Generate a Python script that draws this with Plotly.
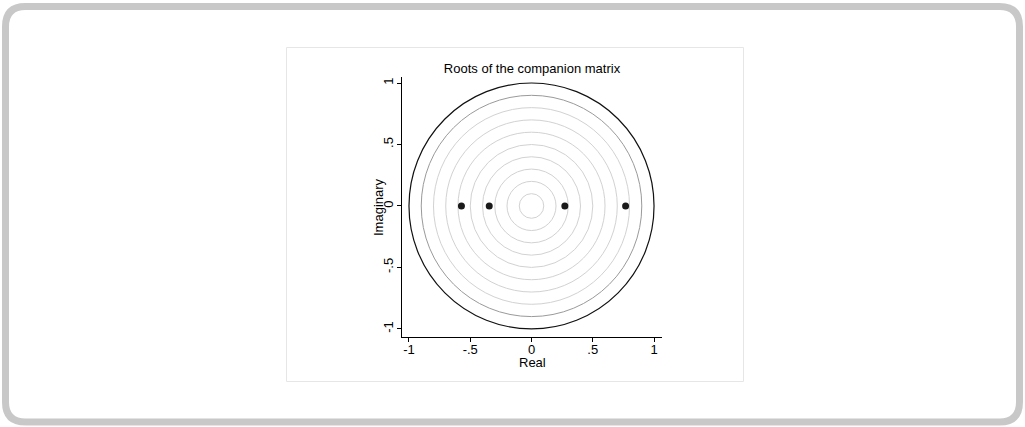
import plotly.graph_objects as go

# Data
root_real = [-0.572, -0.345, 0.272, 0.768]
root_imag = [0.0, 0.0, 0.0, 0.0]
grid_radii = [0.1, 0.2, 0.3, 0.4, 0.5, 0.6, 0.7, 0.8, 0.9]
unit_radius = 1.0
tick_vals = [-1, -0.5, 0, 0.5, 1]
tick_text = ["-1", "-.5", "0", ".5", "1"]

W, H = 1025, 427
L, R, T, B = 402, 363, 77, 90
PW = W - L - R
PH = H - T - B

def px(x):
    return (x - L) / PW

def py(y):
    return (H - B - y) / PH

fig = go.Figure()
fig.add_trace(go.Scatter(
    x=root_real, y=root_imag, mode="markers",
    marker=dict(size=7, color="#1a1a1a"),
    showlegend=False, hoverinfo="x+y"))

shapes = []
for r in grid_radii:
    shapes.append(dict(type="circle", xref="x", yref="y", x0=-r, x1=r, y0=-r, y1=r,
                       line=dict(color="#9a9a9a" if r == 0.9 else "#d2d2d2", width=1),
                       layer="below"))
shapes.append(dict(type="circle", xref="x", yref="y", x0=-unit_radius, x1=unit_radius,
                   y0=-unit_radius, y1=unit_radius, line=dict(color="#111111", width=1.2),
                   layer="below"))

# outer rounded frame
x0, x1, y0, y1, rr = 5.5, 1019.5, 6.5, 422, 20
path = (f"M {px(x0+rr)},{py(y0)} L {px(x1-rr)},{py(y0)} Q {px(x1)},{py(y0)} {px(x1)},{py(y0+rr)} "
        f"L {px(x1)},{py(y1-rr)} Q {px(x1)},{py(y1)} {px(x1-rr)},{py(y1)} "
        f"L {px(x0+rr)},{py(y1)} Q {px(x0)},{py(y1)} {px(x0)},{py(y1-rr)} "
        f"L {px(x0)},{py(y0+rr)} Q {px(x0)},{py(y0)} {px(x0+rr)},{py(y0)} Z")
shapes.append(dict(type="path", xref="paper", yref="paper", path=path,
                   line=dict(color="#c8c8c8", width=7), layer="below"))
# inner chart box
shapes.append(dict(type="rect", xref="paper", yref="paper", x0=px(286.5), x1=px(743.5),
                   y0=py(47.5), y1=py(381.5), line=dict(color="#e6e6e6", width=1), layer="below"))

font = dict(family="Liberation Sans, Arial, sans-serif", size=13, color="#000000")

annotations = [
    dict(text="Real", xref="paper", yref="paper", x=px(532), y=py(362),
         xanchor="center", yanchor="middle", showarrow=False, font=font),
    dict(text="Imaginary", xref="paper", yref="paper", x=px(378), y=py(207),
         xanchor="center", yanchor="middle", showarrow=False, textangle=-90, font=font),
]

fig.update_layout(
    width=W, height=H,
    margin=dict(l=L, r=R, t=T, b=B, autoexpand=False),
    paper_bgcolor="white", plot_bgcolor="white",
    shapes=shapes, annotations=annotations,
    font=font,
    title=dict(text="Roots of the companion matrix", xref="paper", x=px(532), xanchor="center",
               y=1 - 68 / H, yanchor="middle", font=dict(size=13)),
    xaxis=dict(range=[-1.057, 1.065], tickvals=tick_vals, ticktext=tick_text,
               showgrid=False, zeroline=False, showline=True, linecolor="#000000",
               linewidth=1.2, ticks="outside", ticklen=4, tickwidth=1, tickcolor="#000000",
               automargin=False, tickfont=font, ticklabelstandoff=-4),
    yaxis=dict(range=[-1.066, 1.049], tickvals=tick_vals, ticktext=tick_text,
               showgrid=False, zeroline=False, showline=True, linecolor="#000000",
               linewidth=1.2, ticks="outside", ticklen=4, tickwidth=1, tickcolor="#000000",
               tickangle=-90, automargin=False, tickfont=font, ticklabelstandoff=-1),
)

fig.write_html("out.html", config={"displayModeBar": False},
               post_script="document.body.style.margin='0';")
